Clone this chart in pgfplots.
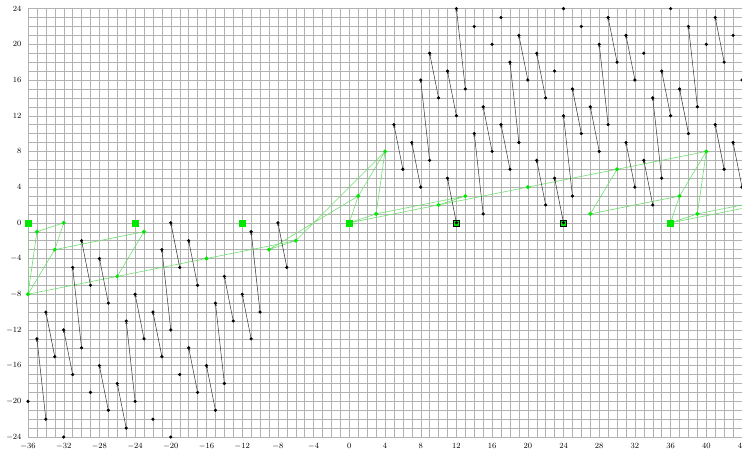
\documentclass[border=0pt]{standalone}
\usepackage{pgfplots}
\pgfplotsset{compat=1.18}
\usepackage{pgfplotstable}
\usetikzlibrary{arrows.meta}
\definecolor{gpt}{RGB}{0,232,0}
\definecolor{gln}{RGB}{110,222,110}
\definecolor{gridc}{RGB}{178,178,178}

\pgfplotstableread{
x1 y1 x2 y2
-34 -22 -35 -13
-33 -15 -34 -10
-31 -17 -32 -12
-30 -14 -31 -5
-29 -7 -30 -2
-27 -21 -28 -16
-27 -9 -28 -4
-25 -23 -26 -18
-24 -20 -25 -11
-23 -13 -24 -8
-21 -15 -22 -10
-20 -12 -21 -3
-19 -5 -20 0
-17 -19 -18 -14
-17 -7 -18 -2
-15 -21 -16 -16
-14 -18 -15 -9
-13 -11 -14 -6
-11 -13 -12 -8
-10 -10 -11 -1
-7 -5 -8 0
6 6 5 11
8 4 7 9
9 7 8 16
10 14 9 19
12 0 11 5
12 12 11 17
13 15 12 24
15 1 14 10
16 8 15 13
18 6 17 11
19 9 18 18
20 16 19 21
22 2 21 7
22 14 21 19
24 0 23 5
25 3 24 12
26 10 25 15
28 8 27 13
29 11 28 20
30 18 29 23
32 4 31 9
32 16 31 21
34 2 33 7
35 5 34 14
36 12 35 17
38 10 37 15
39 13 38 22
42 6 41 11
42 18 41 23
44 4 43 9
}\segs

\pgfplotstableread{
x y
-36 -20
-32 -24
-29 -19
-22 -22
-20 -24
-19 -17
14 22
16 20
17 23
24 24
26 22
23 17
33 19
36 24
40 20
43 21
44 16
}\singles

\pgfplotstableread{
x y
-36 -8
-35 -1
-32 0
-33 -3
-26 -6
-23 -1
-16 -4
-6 -2
-9 -3
1 3
3 1
4 8
10 2
13 3
20 4
27 1
30 6
37 3
39 1
40 8
}\gpts

\begin{document}
\begin{tikzpicture}
\begin{axis}[
  scale only axis,
  width=713.6pt, height=428.2pt,
  xmin=-36, xmax=44, ymin=-24, ymax=24,
  xtick={-36,-32,...,44},
  ytick={-24,-20,...,24},
  minor tick num=3,
  grid=both,
  major grid style={gridc, line width=0.4pt},
  minor grid style={gridc, line width=0.4pt},
  axis line style={gridc, line width=0.4pt},
  major tick length=0pt, minor tick length=0pt,
  tick label style={font=\footnotesize},
  xticklabel style={yshift=-3pt},
  yticklabel style={xshift=-3pt},
]
% green structures
\addplot[gln, line width=0.6pt] coordinates {(-36,0) (-36,-8) (-35,-1) (-32,0) (-33,-3) (-36,-8)};
\addplot[gln, line width=0.6pt] coordinates {(-33,-3) (-23,-1) (-26,-6)};
\addplot[gln, line width=0.6pt] coordinates {(-36,-8) (-6,-2)};
\addplot[gln, line width=0.6pt] coordinates {(0,0) (1,3) (4,8) (3,1) (0,0)};
\addplot[gln, line width=0.6pt] coordinates {(4,8) (-6,-2) (-9,-3) (1,3)};
\addplot[gln, line width=0.6pt] coordinates {(3,1) (13,3) (10,2)};
\addplot[gln, line width=0.6pt] coordinates {(0,0) (40,8)};
\addplot[gln, line width=0.6pt] coordinates {(30,6) (27,1) (37,3) (40,8) (39,1) (36,0) (37,3)};
\addplot[gln, line width=0.6pt] coordinates {(36,0) (46,2)};
\addplot[gln, line width=0.6pt] coordinates {(39,1) (49,3)};
\addplot[only marks, mark=*, mark size=1.8pt, draw=gpt, fill=gpt] table {\gpts};
\addplot[only marks, mark=square*, mark size=3pt, draw=gpt, fill=gpt] coordinates {(-36,0) (-24,0) (-12,0) (0,0) (36,0)};
\addplot[only marks, mark=square*, mark size=3pt, draw=black, fill=gpt] coordinates {(12,0) (24,0)};
% black segments
\addplot[black!80, line width=0.5pt,
  quiver={u={\thisrow{x2}-\thisrow{x1}}, v={\thisrow{y2}-\thisrow{y1}}},
  -{Stealth[length=3pt,width=2.4pt]}] table[x=x1,y=y1] {\segs};
\addplot[only marks, mark=*, mark size=1.4pt, black] table[x=x1,y=y1] {\segs};
\addplot[only marks, mark=*, mark size=1.4pt, black] table[x=x2,y=y2] {\segs};
\addplot[only marks, mark=*, mark size=1.4pt, black] table {\singles};
\end{axis}
\pgfresetboundingbox
\path[use as bounding box] ([xshift=-28pt,yshift=8.6pt]current axis.north west) rectangle ([yshift=-18.2pt]current axis.south east);
\end{tikzpicture}
\end{document}
